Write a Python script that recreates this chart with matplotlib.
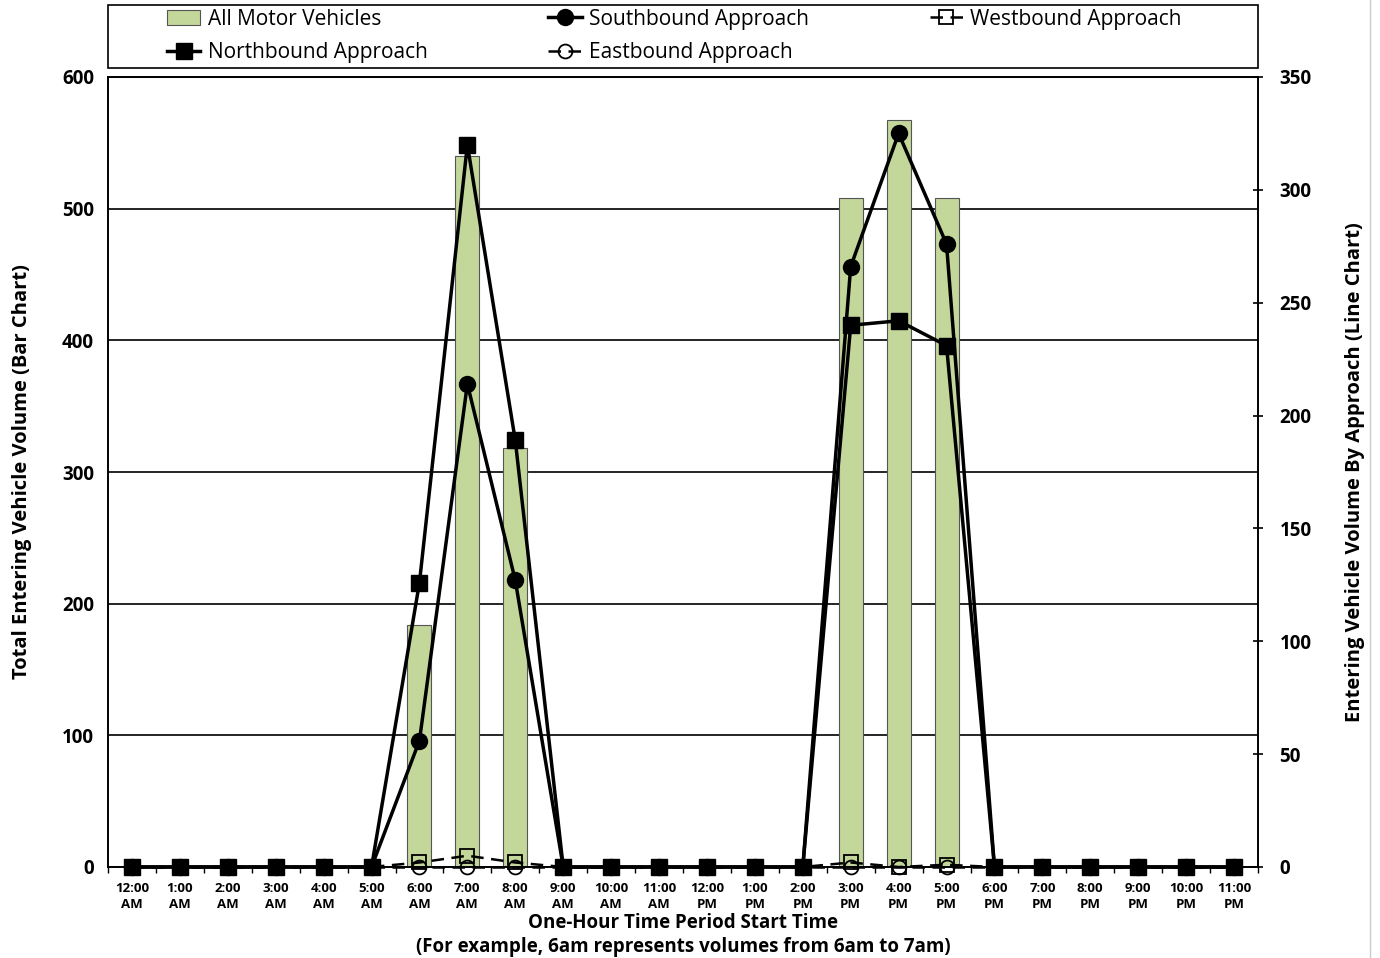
import numpy as np
import matplotlib
matplotlib.use("Agg")
import matplotlib.pyplot as plt
from matplotlib.ticker import FixedLocator
from matplotlib.patches import Rectangle

plt.rcParams["font.family"] = ["Open Sans", "DejaVu Sans"]

# hourly periods
hours = ["12:00\nAM", "1:00\nAM", "2:00\nAM", "3:00\nAM", "4:00\nAM", "5:00\nAM",
         "6:00\nAM", "7:00\nAM", "8:00\nAM", "9:00\nAM", "10:00\nAM", "11:00\nAM",
         "12:00\nPM", "1:00\nPM", "2:00\nPM", "3:00\nPM", "4:00\nPM", "5:00\nPM",
         "6:00\nPM", "7:00\nPM", "8:00\nPM", "9:00\nPM", "10:00\nPM", "11:00\nPM"]

all_vehicles = [0, 0, 0, 0, 0, 0, 184, 540, 318, 0, 0, 0,
                0, 0, 0, 508, 567, 508, 0, 0, 0, 0, 0, 0]
northbound = [0, 0, 0, 0, 0, 0, 126, 320, 189, 0, 0, 0,
              0, 0, 0, 240, 242, 231, 0, 0, 0, 0, 0, 0]
southbound = [0, 0, 0, 0, 0, 0, 56, 214, 127, 0, 0, 0,
              0, 0, 0, 266, 325, 276, 0, 0, 0, 0, 0, 0]
eastbound = [0, 0, 0, 0, 0, 0, 0, 0, 0, 0, 0, 0,
             0, 0, 0, 0, 0, 0, 0, 0, 0, 0, 0, 0]
westbound = [0, 0, 0, 0, 0, 0, 2, 5, 2, 0, 0, 0,
             0, 0, 0, 2, 0, 1, 0, 0, 0, 0, 0, 0]

x = np.arange(len(hours))

fig = plt.figure(figsize=(13.8, 9.58), dpi=100)
ax = fig.add_axes([108 / 1380, 91 / 958, 1150 / 1380, 790 / 958])
ax2 = ax.twinx()

# bars on left axis
bars = ax.bar(x, all_vehicles, width=0.5, color="#c4d79b", edgecolor="#555555",
              linewidth=0.8, zorder=2, label="All Motor Vehicles")
ax.set_ylim(0, 600)
ax.set_xlim(-0.5, 23.5)
ax.set_yticks(range(0, 601, 100))
ax.yaxis.grid(True, color="black", linewidth=1.2, zorder=0)
ax.set_axisbelow(True)
ax.tick_params(axis="y", length=0, labelsize=13.5, pad=10)
for t in ax.get_yticklabels():
    t.set_fontweight("bold")

ax.set_xticks(x)
ax.set_xticklabels(hours, fontsize=9.5, fontweight="bold", linespacing=1.25)
ax.tick_params(axis="x", length=0, pad=11)
ax.xaxis.set_minor_locator(FixedLocator(np.arange(-0.5, 24, 1)))
ax.tick_params(axis="x", which="minor", length=4, width=1, direction="out")

# lines on right axis
nb, = ax2.plot(x, northbound, color="black", linewidth=2.5, marker="s",
               markersize=11.5, label="Northbound Approach", zorder=4, clip_on=False)
sb, = ax2.plot(x, southbound, color="black", linewidth=2.5, marker="o",
               markersize=11.5, label="Southbound Approach", zorder=4, clip_on=False)
eb, = ax2.plot(x, eastbound, color="black", linewidth=1.8, linestyle=(0, (5, 3)),
               marker="o", markersize=10, markerfacecolor="none",
               markeredgewidth=1.3, label="Eastbound Approach", zorder=3, clip_on=False)
wb, = ax2.plot(x, westbound, color="black", linewidth=1.8, linestyle=(0, (5, 3)),
               marker="s", markersize=10, markerfacecolor="none",
               markeredgewidth=1.3, label="Westbound Approach", zorder=3, clip_on=False)
ax2.set_ylim(0, 350)
ax2.set_yticks(range(0, 351, 50))
ax2.tick_params(axis="y", length=7, width=1.2, direction="inout", labelsize=13.5, pad=12)
for t in ax2.get_yticklabels():
    t.set_fontweight("bold")

for a in (ax, ax2):
    for s in a.spines.values():
        s.set_linewidth(1.2)
        s.set_color("black")

ax.set_ylabel("Total Entering Vehicle Volume (Bar Chart)", fontsize=14.5,
              fontweight="bold", labelpad=22)
ax2.set_ylabel("Entering Vehicle Volume By Approach (Line Chart)", fontsize=14.5,
               fontweight="bold", labelpad=24)

fig.text(683 / 1380, 1 - 923 / 958, "One-Hour Time Period Start Time",
         ha="center", va="center", fontsize=13.5, fontweight="bold")
fig.text(683 / 1380, 1 - 947 / 958, "(For example, 6am represents volumes from 6am to 7am)",
         ha="center", va="center", fontsize=13.5, fontweight="bold")

# legend box spanning the plot width
fig.add_artist(Rectangle((108 / 1380, 1 - 68 / 958), 1150 / 1380, 63 / 958,
                         transform=fig.transFigure, fill=False,
                         edgecolor="black", linewidth=1.2))
handles = [bars, nb, sb, eb, wb]
labels = [h.get_label() for h in handles]
leg = fig.legend(handles, labels, ncol=3, loc="center left",
                 bbox_to_anchor=(167 / 1380, 1 - 36 / 958),
                 borderaxespad=0, fontsize=15, frameon=False,
                 handlelength=1.6, labelspacing=0.6, handletextpad=0.35,
                 columnspacing=5.8, borderpad=0)

fig.add_artist(plt.Line2D([1370 / 1380, 1370 / 1380], [0, 1], color="#cccccc", linewidth=1))

fig.savefig("out.png", dpi=100)
